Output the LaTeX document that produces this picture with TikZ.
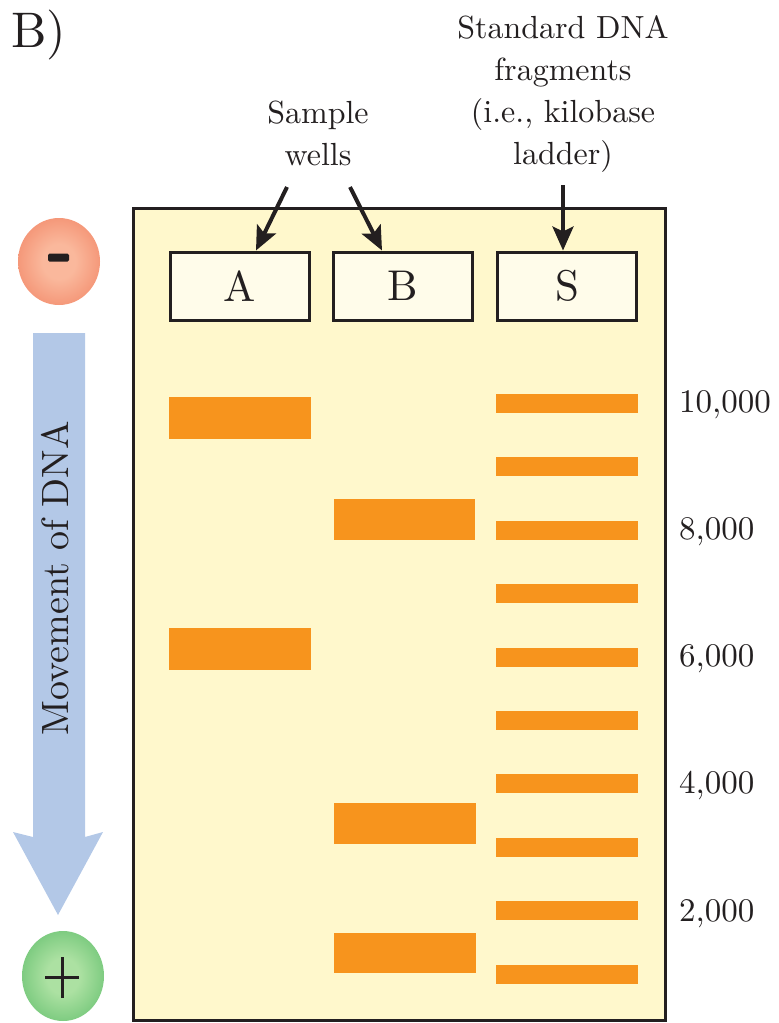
\documentclass[tikz,border=0pt]{standalone}
\usepackage{fontspec}
\setmainfont{lmroman10-regular}[Extension=.otf]
\usetikzlibrary{arrows.meta}

\definecolor{gelfill}{HTML}{FFF8CC}
\definecolor{wellfill}{HTML}{FFFCEA}
\definecolor{bandor}{HTML}{F7941D}
\definecolor{inkdark}{HTML}{231F20}
\definecolor{flowblue}{HTML}{B3C8E7}
\definecolor{minusin}{HTML}{FAB89C}
\definecolor{minusout}{HTML}{EC6340}
\definecolor{plusin}{HTML}{ACE1A2}
\definecolor{plusout}{HTML}{32A84A}

% electrode balls: light centre fading to a saturated rim
\pgfdeclareradialshading{cathodeball}{\pgfpoint{0bp}{0bp}}{color(0bp)=(minusin); color(10bp)=(minusin); color(50bp)=(minusout)}
\pgfdeclareradialshading{anodeball}{\pgfpoint{0bp}{0bp}}{color(0bp)=(plusin); color(10bp)=(plusin); color(50bp)=(plusout)}

\newcommand\txtfont{\fontsize{32}{42}\selectfont}

\tikzset{
  gelbox/.style={draw=inkdark, fill=gelfill, line width=3pt},
  well/.style={draw=inkdark, fill=wellfill, line width=3pt, minimum width=139pt,
               minimum height=68pt, inner sep=0pt, font=\fontsize{43}{46}\selectfont, text=inkdark},
  band/.style={fill=bandor},
  lbl/.style={font=\txtfont, text=inkdark, inner sep=0pt, align=center},
  sizelbl/.style={font=\fontsize{33}{40}\selectfont, text=inkdark, inner sep=0pt, anchor=base west},
  pointer/.style={draw=inkdark, line width=4pt, -{Stealth[length=24pt, width=21pt, inset=5pt]}},
  signbar/.style={draw=inkdark, line width=3pt},
}

\begin{document}
\begin{tikzpicture}[x=1pt, y=-1pt]
\useasboundingbox (0,0) rectangle (779,1023);

% panel letter
\node[font=\fontsize{50}{54}\selectfont, text=inkdark, inner sep=0pt, anchor=base west] (panel) at (11,47) {B)};

% gel slab
\draw[gelbox] (133,208) rectangle (665,1020);

% loading wells
\node[well] (wellA) at (239.5,286) {A};
\node[well] (wellB) at (403,286) {B};
\node[well] (wellS) at (567,286) {S};

% captions above the wells
\node[lbl] (sample) at (318,133) {Sample\\wells};
\node[lbl] (ladder) at (563,94) {Standard DNA\\fragments\\(i.e., kilobase\\ladder)};

\coordinate (sA) at (287,187);
\coordinate (sB) at (350,187);
\coordinate (sS) at (563,185);
\draw[pointer] (sA) -- ([xshift=16.5pt]wellA.north);
\draw[pointer] (sB) -- ([xshift=-21pt]wellB.north);
\draw[pointer] (sS) -- ([xshift=-4pt]wellS.north);

% sample lanes
\fill[band] (169,397) rectangle (311,439);
\fill[band] (169,628) rectangle (311,670);
\fill[band] (334,499) rectangle (475,540);
\fill[band] (334,803) rectangle (476,844);
\fill[band] (334,933) rectangle (476,973);

% ladder lane
\foreach \k in {0,...,9}
  \fill[band] (496,{394+63.4*\k}) rectangle (638,{413+63.4*\k});

% fragment sizes
\node[sizelbl] (kb10) at (679,412) {10,000};
\node[sizelbl] (kb8)  at (679,539) {8,000};
\node[sizelbl] (kb6)  at (679,666) {6,000};
\node[sizelbl] (kb4)  at (679,793) {4,000};
\node[sizelbl] (kb2)  at (679,921) {2,000};

% direction of migration
\fill[flowblue] (33,333) -- (85,333) -- (85,837) -- (103,832) -- (58,915)
  -- (13,832) -- (33,837) -- cycle;
\node[lbl, rotate=90, font=\fontsize{38}{42}\selectfont] (move) at (55,578) {Movement of DNA};

% electrodes
\shade[shading=cathodeball] (59,261.5) ellipse [x radius=41, y radius=43.5];
\node[fill=inkdark, rounded corners=1.5pt, minimum width=21pt, minimum height=8pt, inner sep=0pt] (minus) at (58.5,257.5) {};
\shade[shading=anodeball] (63,976) ellipse [x radius=41, y radius=45];
\node[minimum width=34pt, minimum height=41pt, inner sep=0pt, outer sep=0pt] (plus) at (62,977.5) {};
\draw[signbar] (plus.west) -- (plus.east);
\draw[signbar] (plus.north) -- (plus.south);
\end{tikzpicture}
\end{document}
